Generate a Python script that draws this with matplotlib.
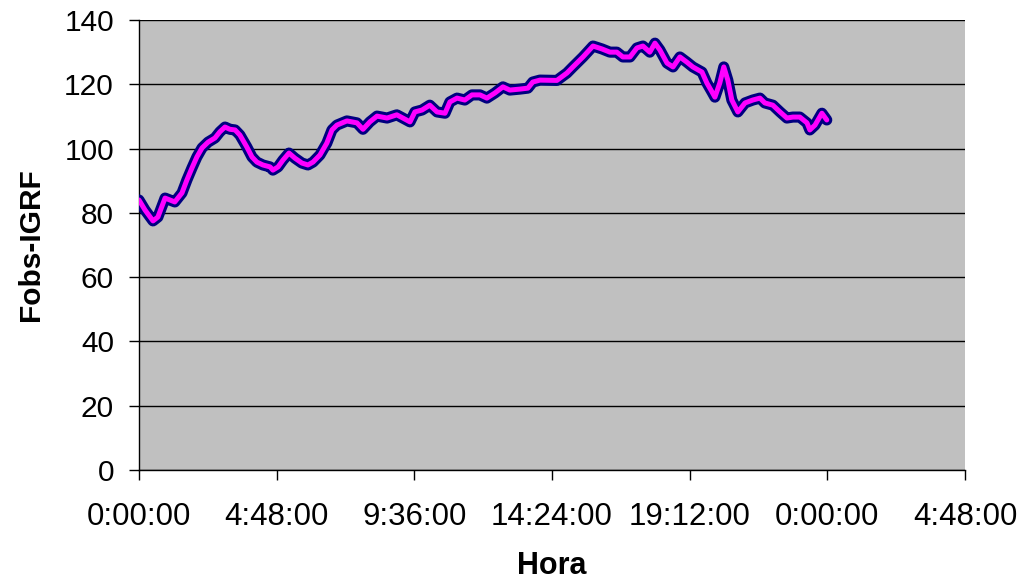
import matplotlib
matplotlib.use("Agg")
import matplotlib.pyplot as plt
from matplotlib.ticker import FixedLocator, FuncFormatter

plt.rcParams['font.family'] = ['Liberation Sans', 'DejaVu Sans']

# Time of day (hours) and observed field minus IGRF
hours = [0.00, 0.21, 0.49, 0.66, 0.91, 1.08, 1.25, 1.50, 1.67, 1.85, 2.02, 2.20,
         2.41, 2.65, 2.82, 3.00, 3.17, 3.35, 3.52, 3.76, 3.94, 4.11, 4.32, 4.57,
         4.67, 4.85, 5.02, 5.23, 5.44, 5.68, 5.89, 6.07, 6.31, 6.55, 6.73, 6.90,
         7.25, 7.60, 7.81, 8.05, 8.30, 8.65, 8.99, 9.20, 9.45, 9.62, 9.87, 10.14,
         10.39, 10.67, 10.84, 11.09, 11.36, 11.61, 11.89, 12.13, 12.41, 12.69,
         12.93, 13.28, 13.56, 13.73, 13.98, 14.57, 14.92, 15.13, 15.48, 15.83,
         16.14, 16.42, 16.66, 16.87, 17.12, 17.36, 17.57, 17.81, 17.99, 18.16,
         18.41, 18.62, 18.86, 19.10, 19.31, 19.63, 19.80, 19.98, 20.08, 20.25,
         20.39, 20.53, 20.67, 20.88, 21.13, 21.40, 21.65, 21.82, 22.10, 22.35,
         22.59, 22.80, 23.04, 23.29, 23.39, 23.57, 23.81, 23.98]
fobs_igrf = [84.0, 80.9, 77.5, 78.7, 84.6, 84.0, 83.4, 86.2, 90.2, 94.0, 97.4, 100.2,
             102.0, 103.3, 105.2, 106.7, 106.0, 105.8, 104.2, 100.5, 97.4, 95.8, 94.9, 94.3,
             93.3, 94.3, 96.4, 98.6, 97.0, 95.5, 94.9, 95.8, 98.0, 101.7, 105.8, 107.3,
             108.6, 108.0, 106.0, 108.3, 110.1, 109.5, 110.5, 109.5, 108.3, 111.4, 112.0, 113.5,
             111.4, 111.0, 114.5, 115.7, 115.1, 116.7, 116.7, 115.7, 117.3, 119.2,
             118.2, 118.5, 118.8, 120.7, 121.3, 121.2, 123.5, 125.4, 128.5, 131.9,
             131.0, 130.0, 130.0, 128.5, 128.5, 131.3, 131.9, 130.0, 132.8, 130.7,
             126.6, 125.4, 128.5, 126.9, 125.4, 123.8, 120.4, 117.6, 116.0, 120.4,
             125.4, 121.3, 115.1, 111.4, 114.2, 115.1, 115.7, 114.2, 113.5, 111.4,
             109.5, 109.8, 109.8, 108.0, 105.8, 107.3, 111.0, 108.9]

x_ticks_days = [0.0, 0.2, 0.4, 0.6, 0.8, 1.0, 1.2]
y_ticks = [0, 20, 40, 60, 80, 100, 120, 140]

days = [h / 24.0 for h in hours]


def hms(value, pos=None):
    total = int(round(value * 86400)) % 86400
    h, rem = divmod(total, 3600)
    m, s = divmod(rem, 60)
    return f"{h}:{m:02d}:{s:02d}"


fig = plt.figure(figsize=(10.24, 5.83), dpi=100)
ax = fig.add_axes([0.1357, 0.1938, 0.8067, 0.7719])
ax.set_facecolor('#C0C0C0')

ax.plot(days, fobs_igrf, color='#000080', lw=8.0,
        solid_joinstyle='round', solid_capstyle='round', zorder=3)
ax.plot(days, fobs_igrf, color='#FF00FF', lw=3.6,
        solid_joinstyle='round', solid_capstyle='round', zorder=4)

ax.set_xlim(0, 1.2)
ax.set_ylim(0, 140)
ax.xaxis.set_major_locator(FixedLocator(x_ticks_days))
ax.xaxis.set_major_formatter(FuncFormatter(hms))
ax.yaxis.set_major_locator(FixedLocator(y_ticks))

ax.grid(axis='y', color='black', lw=1.0, zorder=1)
ax.set_axisbelow(True)
for side in ('top', 'right'):
    ax.spines[side].set_visible(False)
for side in ('left', 'bottom'):
    ax.spines[side].set_color('black')
    ax.spines[side].set_linewidth(1.0)

ax.tick_params(axis='both', direction='out', length=7, width=1.0,
               colors='black')
ax.tick_params(axis='y', pad=11, labelsize=21.5)
ax.tick_params(axis='x', pad=16, labelsize=22.5)

ax.set_xlabel('Hora', fontsize=22, fontweight='bold', labelpad=14)
ax.set_ylabel('Fobs-IGRF', fontsize=21.5, fontweight='bold', labelpad=14)

fig.savefig('out.png', dpi=100, facecolor='white')
